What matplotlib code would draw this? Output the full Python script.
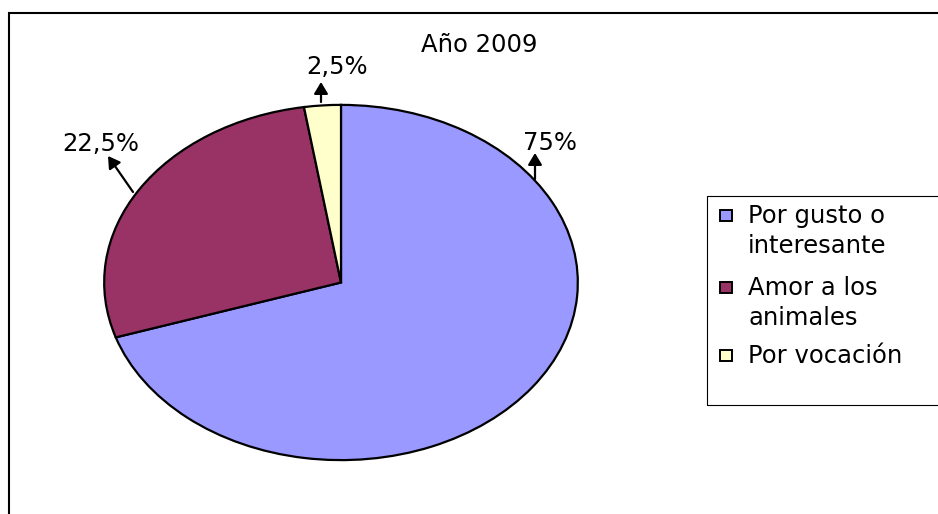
import matplotlib
matplotlib.use("Agg")
import matplotlib.pyplot as plt
from matplotlib.patches import Rectangle

# data (wedge sizes as drawn, labels as printed)
categories = ["Por gusto o\ninteresante", "Amor a los\nanimales", "Por vocación"]
shares = [70, 27.5, 2.5]
pct_labels = ["75%", "22,5%", "2,5%"]
colors = ["#9999FF", "#993366", "#FFFFCC"]
title = "Año 2009"

W, H = 938, 514
fig = plt.figure(figsize=(W / 100, H / 100), dpi=100)
fig.patch.set_facecolor("white")

# outer chart frame (runs off right and bottom)
fig.add_artist(Rectangle((9 / W, -0.1), 2, (H - 13) / H + 0.1, transform=fig.transFigure,
                         fill=False, ec="black", lw=1.5))

# pie stretched into an ellipse: x 103..579, y 104..461 (px from top)
ax = fig.add_axes([103 / W, (H - 461) / H, 476 / W, 357 / H])
ax.pie(shares, colors=colors, startangle=90, counterclock=False,
       wedgeprops=dict(edgecolor="black", linewidth=1.6))
ax.set_aspect("auto")
ax.set_xlim(-1.005, 1.005)
ax.set_ylim(-1.005, 1.005)
ax.axis("off")

fs = 17.5

# label leader arrows (figure pixels, from pie edge to tip) and label baselines
leaders = [((535, H - 179), (535, H - 153)),
           ((133, H - 192), (108, H - 156)),
           ((321, H - 102), (321, H - 82))]
label_pos = [(550, H - 150), (101, H - 151), (337, H - 74)]
for (start, tip), (lx, ly), txt in zip(leaders, label_pos, pct_labels):
    ax.annotate("", xy=tip, xycoords="figure pixels", xytext=start, textcoords="figure pixels",
                arrowprops=dict(arrowstyle="-|>,head_length=0.5,head_width=0.3",
                                color="black", lw=1.6, mutation_scale=14,
                                shrinkA=0, shrinkB=0))
    fig.text(lx / W, ly / H, txt, ha="center", va="baseline", fontsize=fs)

fig.text(479 / W, (H - 52.5) / H, title, ha="center", va="baseline", fontsize=fs)

# legend box (runs off right edge)
fig.add_artist(Rectangle((707 / W, (H - 405) / H), 1, 209 / H, transform=fig.transFigure,
                         fill=False, ec="black", lw=0.8))
entry_base = [223, 295, 363]
line_gap = 30
for name, col, yb in zip(categories, colors, entry_base):
    fig.add_artist(Rectangle((720 / W, (H - yb + 2) / H), 12 / W, 11 / H,
                             transform=fig.transFigure, fc=col, ec="black", lw=1.4))
    for k, line in enumerate(name.split("\n")):
        fig.text(748 / W, (H - yb - k * line_gap) / H, line, ha="left", va="baseline", fontsize=fs)

fig.savefig("out.png", dpi=100)
